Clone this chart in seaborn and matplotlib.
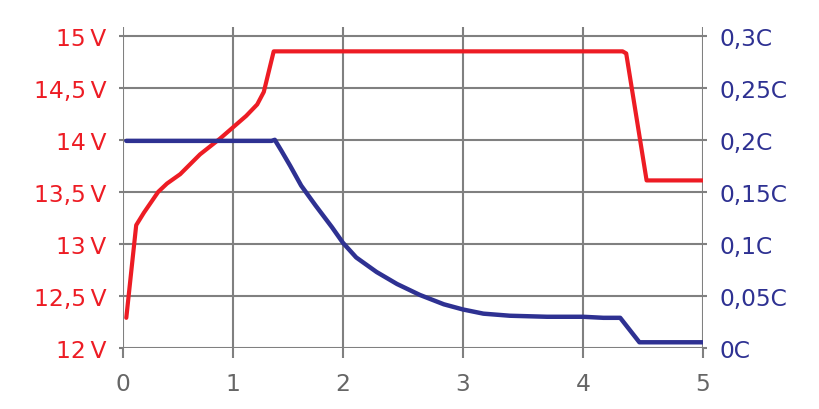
import numpy as np
import matplotlib
matplotlib.use("Agg")
import matplotlib.pyplot as plt
import seaborn as sns

# charge curve: time (h) vs voltage and current
volt_time = [0.03, 0.12, 0.19, 0.32, 0.40, 0.52, 0.70, 0.88, 1.00, 1.12, 1.22, 1.28,
             1.37, 4.33, 4.36, 4.53, 5.00]
voltage = [12.29, 13.18, 13.30, 13.50, 13.58, 13.67, 13.86, 14.01, 14.12, 14.23, 14.34, 14.46,
           14.85, 14.85, 14.83, 13.61, 13.61]

curr_time = [0.03, 1.35, 1.38, 1.44, 1.52, 1.62, 1.75, 1.90, 2.00, 2.11, 2.28, 2.45, 2.64, 2.84,
             3.00, 3.17, 3.39, 3.70, 4.00, 4.17, 4.31, 4.47, 5.00]
current = [0.199, 0.199, 0.200, 0.1895, 0.175, 0.156, 0.137, 0.116, 0.101, 0.087, 0.073, 0.0615,
           0.051, 0.042, 0.037, 0.033, 0.031, 0.030, 0.030, 0.029, 0.029, 0.0055, 0.0055]

x_ticks = [0, 1, 2, 3, 4, 5]
v_ticks = [12, 12.5, 13, 13.5, 14, 14.5, 15]
v_labels = ["12\u2009V", "12,5\u2009V", "13\u2009V", "13,5\u2009V", "14\u2009V", "14,5\u2009V", "15\u2009V"]
c_ticks = [0, 0.05, 0.1, 0.15, 0.2, 0.25, 0.3]
c_labels = ["0C", "0,05C", "0,1C", "0,15C", "0,2C", "0,25C", "0,3C"]

RED = "#ED1C24"
BLUE = "#2E3192"
GRID = "#808080"

sns.set_style("whitegrid", {"grid.color": GRID, "axes.edgecolor": GRID})
plt.rcParams["font.family"] = ["DejaVu Sans"]

# the source grid is slightly wider after hour 2
def fwd(x):
    x = np.asarray(x, dtype=float)
    return np.where(x <= 2, 110 * x, 220 + 120 * (x - 2))

def inv(p):
    p = np.asarray(p, dtype=float)
    return np.where(p <= 220, p / 110, 2 + (p - 220) / 120)

fig = plt.figure(figsize=(8.2, 4.1), dpi=100)
ax = fig.add_axes([123 / 820, 61 / 410, 580 / 820, 321 / 410])
ax.set_xscale("function", functions=(fwd, inv))

sns.lineplot(x=volt_time, y=voltage, ax=ax, color=RED, linewidth=3.0, sort=False)
ax.set_xlim(0, 5)
ax.set_ylim(12, 15.084)
ax.set_xticks(x_ticks)
ax.set_xticklabels([str(t) for t in x_ticks])
ax.set_yticks(v_ticks)
ax.set_yticklabels(v_labels)
ax.grid(True, color=GRID, linewidth=1.5)
for s in ax.spines.values():
    s.set_visible(False)
ax.tick_params(axis="y", left=True, length=3, width=1.5, color=GRID, pad=9,
               labelsize=16.8, labelcolor=RED)
ax.tick_params(axis="x", bottom=True, length=7, width=1.5, color=GRID, pad=10,
               labelsize=16.8, labelcolor="#666666")
ax.minorticks_off()

ax2 = ax.twinx()
sns.lineplot(x=curr_time, y=current, ax=ax2, color=BLUE, linewidth=3.2, sort=False)
ax2.set_ylim(0, 0.3 * 3.084 / 3)
ax2.set_yticks(c_ticks)
ax2.set_yticklabels(c_labels)
ax2.grid(False)
for s in ax2.spines.values():
    s.set_visible(False)
ax2.tick_params(axis="y", right=True, length=3, width=1.5, color=GRID, pad=9,
                labelsize=16.8, labelcolor=BLUE)
ax2.set_ylabel("")
ax.set_xlabel("")
ax.set_ylabel("")

fig.savefig("out.png", dpi=100)
